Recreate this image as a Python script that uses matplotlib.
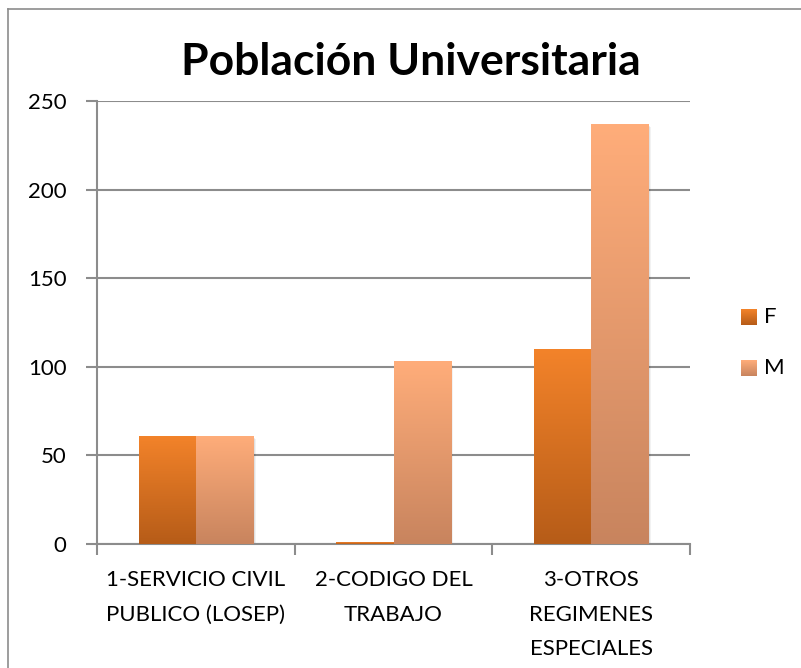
import matplotlib
matplotlib.use("Agg")
import matplotlib.pyplot as plt
import numpy as np
from matplotlib.colors import LinearSegmentedColormap
from matplotlib.patches import Rectangle
from matplotlib.lines import Line2D

categories = ["1-SERVICIO CIVIL\nPUBLICO (LOSEP)", "2-CODIGO DEL\nTRABAJO", "3-OTROS\nREGIMENES\nESPECIALES"]
series_names = ["F", "M"]
values_F = [61, 1, 110]
values_M = [61, 103, 237]
yticks = [0, 50, 100, 150, 200, 250]

F_top, F_bot = "#F3832A", "#B65C18"
M_top, M_bot = "#FFAD7A", "#C8845E"

plt.rcParams['font.family'] = ['Lato', 'DejaVu Sans']

fig = plt.figure(figsize=(8.01, 6.68), dpi=100)
ax = fig.add_axes([97/801, 1-544/668, (690-97)/801, (544-101)/668])

W, H = 801, 668
# outer border
fig.add_artist(Line2D([8/W, 8/W], [0, 1-9/H], color="#8C8C8C", lw=1.2, transform=fig.transFigure))
fig.add_artist(Line2D([8/W, 1], [1-9/H, 1-9/H], color="#8C8C8C", lw=1.2, transform=fig.transFigure))

x = np.arange(len(categories))
bw = 0.29
ax.set_xlim(-0.5, len(categories)-0.5)
ax.set_ylim(0, 250)

def grad_bar(x0, h, ctop, cbot):
    if h <= 0:
        return
    for k, a in [(3, 0.05), (2, 0.07), (1, 0.09)]:
        sh = Rectangle((x0 + 0.004*k, -0.6*k), bw, h, facecolor="#000000", alpha=a, lw=0, zorder=2)
        ax.add_patch(sh)
    rect = Rectangle((x0, 0), bw, h, facecolor="none", lw=0, zorder=3)
    ax.add_patch(rect)
    cmap = LinearSegmentedColormap.from_list("g", [cbot, ctop])
    grad = np.linspace(0, 1, 256).reshape(-1, 1)
    im = ax.imshow(grad, extent=(x0, x0+bw, 0, h), origin="lower", cmap=cmap,
                   aspect="auto", zorder=3, interpolation="bilinear")
    im.set_clip_path(rect)

for i in range(len(categories)):
    grad_bar(x[i]-bw, values_F[i], F_top, F_bot)
    grad_bar(x[i], values_M[i], M_top, M_bot)
ax.set_xlim(-0.5, len(categories)-0.5)
ax.set_ylim(0, 250)
ax.set_aspect("auto")

ax.set_yticks(yticks)
ax.set_yticklabels([str(v) for v in yticks], fontsize=16)
ax.yaxis.grid(True, color="#8C8C8C", lw=1.5, zorder=1)
ax.set_axisbelow(True)
ax.set_xticks(x)
ax.set_xticklabels(categories, fontsize=16, linespacing=1.9, va="top")
ax.tick_params(axis="x", length=0, pad=19)
ax.set_xticks(np.arange(len(categories)+1)-0.5, minor=True)
ax.tick_params(axis="x", which="minor", length=8, color="#8C8C8C", width=1.5, direction="out")
ax.tick_params(axis="y", length=8, color="#8C8C8C", width=1.5, direction="out", pad=14)
for s in ["top", "right"]:
    ax.spines[s].set_visible(False)
for s in ["left", "bottom"]:
    ax.spines[s].set_color("#8C8C8C")
    ax.spines[s].set_linewidth(1.5)

fig.text(411/W, 1-62/H, "Población Universitaria", ha="center", va="center",
         fontsize=32, fontweight="bold")

# legend
for name, (ct, cb), yc in zip(series_names, [(F_top, F_bot), (M_top, M_bot)], [317, 368]):
    lax = fig.add_axes([741/W, 1-(yc+8)/H, 16/W, 16/H])
    lax.imshow(np.linspace(0, 1, 64).reshape(-1, 1), origin="upper", aspect="auto",
               cmap=LinearSegmentedColormap.from_list("l", [ct, cb]))
    lax.axis("off")
    fig.text(764/W, 1-yc/H, name, ha="left", va="center", fontsize=16)

fig.savefig("out.png", dpi=100)
